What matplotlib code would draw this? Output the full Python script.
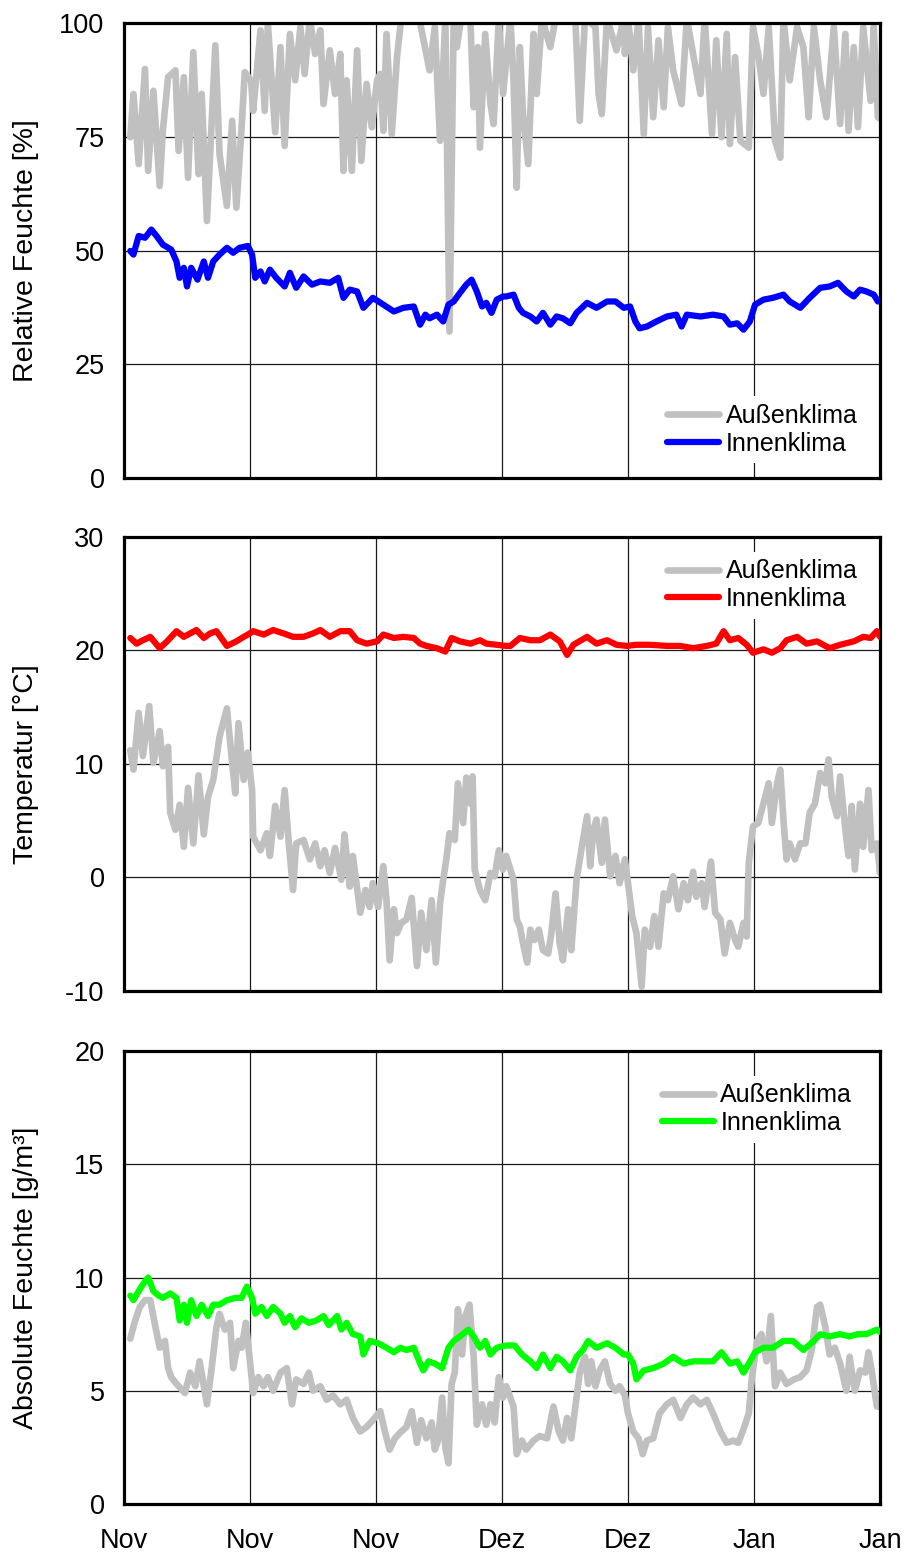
import matplotlib
matplotlib.use("Agg")
from matplotlib import pyplot as plt

plt.rcParams['font.family'] = ['Liberation Sans', 'DejaVu Sans']

# x axis: days from start of record, 6 intervals of 12 days
tick_days = [0, 12, 24, 36, 48, 60, 72]
tick_labels = ["Nov", "Nov", "Nov", "Dez", "Dez", "Jan", "Jan"]

# relative humidity, outside
rh_out_t = [0.6, 0.9, 1.4, 2.0, 2.3, 2.8, 3.4, 3.7, 4.2, 4.9, 5.2, 5.7, 6.1, 6.6, 7.1, 7.4, 7.9, 8.7,
            9.1, 9.8, 10.3, 10.7, 11.2, 11.5, 12.1, 12.3, 12.6, 13.0, 13.4, 13.7, 14.4, 14.9, 15.3,
            15.8, 16.3, 16.8, 17.2, 17.7, 18.2, 18.7, 19.0, 19.6, 20.1, 20.6, 20.9, 21.2, 21.7, 22.2,
            22.6, 23.1, 23.6, 24.1, 24.4, 24.7, 25.0, 25.5, 26.0, 26.4, 26.9, 27.6, 28.2, 29.1, 29.6,
            30.1, 30.6, 31.0, 31.4, 31.7, 32.3, 33.0, 33.3, 33.7, 33.9, 34.4, 34.9, 35.2, 35.7, 36.1,
            36.8, 37.1, 37.4, 37.7, 38.0, 38.5, 39.0, 39.3, 39.8, 40.6, 41.1, 42.0, 43.0, 43.4, 43.9,
            44.9, 45.2, 45.5, 46.0, 46.9, 47.6, 47.7, 48.0, 48.5, 49.0, 49.5, 49.9, 50.4, 50.9, 51.4,
            51.8, 52.3, 53.1, 53.6, 54.2, 54.9, 55.3, 56.0, 56.4, 56.9, 57.4, 57.7, 58.2, 58.7, 59.5,
            59.9, 60.4, 60.9, 61.4, 62.0, 62.5, 62.8, 63.4, 64.1, 64.7, 65.2, 65.7, 66.3, 66.9, 67.6,
            68.2, 68.7, 69.0, 69.5, 69.9, 70.4, 71.1, 71.4, 71.8, 72.0]
rh_out = [74.9, 84.4, 69.0, 89.9, 67.5, 85.1, 64.2, 76.3, 88.1, 89.6, 71.9, 88.1, 66.0, 93.6, 66.8, 84.4,
          56.5, 95.1, 71.2, 59.8, 78.5, 59.4, 77.1, 89.2, 87.4, 80.7, 88.1, 98.4, 80.7, 99.9, 76.0, 94.7,
          73.0, 97.6, 87.4, 99.1, 88.8, 101, 93.2, 98.4, 82.2, 94.0, 84.4, 93.2, 67.5, 87.4, 67.5, 94.0,
          69.7, 86.6, 77.1, 87.4, 88.8, 76.3, 97.6, 75.6, 92.5, 101, 105, 104, 100, 89.6, 99.1,
          74.1, 101, 32.2, 101, 94.7, 104, 100, 81.5, 94.7, 72.6, 97.6, 82.2, 77.8, 101, 84.4,
          101, 87.4, 63.8, 94.7, 80.0, 69.0, 97.6, 84.4, 101, 94.7, 101, 104, 100, 78.5, 101,
          99.1, 84.4, 80.0, 101, 94.0, 101, 93.2, 101, 89.6, 101, 75.6, 99.1, 79.3, 96.2, 81.5,
          99.1, 89.6, 82.2, 101, 93.2, 84.4, 101, 75.6, 96.2, 74.9, 97.6, 73.4, 92.5, 74.1, 72.6,
          99.1, 93.2, 84.4, 99.1, 74.1, 70.4, 101, 87.4, 99.1, 94.7, 79.3, 99.1, 87.4, 79.3, 99.1,
          77.8, 97.6, 76.3, 94.7, 77.1, 99.1, 82.9, 99.1, 79.3, 79.0]

# relative humidity, inside
rh_in_t = [0.6, 0.9, 1.4, 2.0, 2.6, 3.1, 3.7, 4.5, 5.0, 5.3, 5.7, 6.0, 6.4, 7.0, 7.6, 8.0, 8.5, 9.1, 9.8,
           10.4, 11.0, 11.8, 12.2, 12.5, 13.0, 13.4, 13.9, 14.5, 15.3, 15.8, 16.4, 17.1, 17.9, 18.7,
           19.6, 20.4, 20.9, 21.5, 22.2, 22.8, 23.7, 24.7, 25.7, 26.6, 27.6, 28.2, 28.7, 29.1, 29.8,
           30.4, 30.9, 31.4, 32.0, 32.6, 33.1, 33.6, 34.1, 34.5, 35.0, 35.5, 36.1, 36.4, 37.1, 37.6,
           38.0, 38.7, 39.3, 39.9, 40.6, 41.2, 41.8, 42.5, 43.1, 44.1, 45.0, 46.0, 46.8, 47.6, 48.2,
           48.7, 49.1, 49.8, 50.7, 51.7, 52.6, 53.1, 53.6, 54.9, 56.1, 57.1, 57.7, 58.4, 59.0, 59.6,
           60.1, 60.9, 61.8, 62.8, 63.4, 64.4, 65.3, 66.3, 67.2, 68.0, 68.8, 69.5, 70.1, 70.7, 71.4,
           71.8, 72.0]
rh_in = [49.9, 49.1, 53.2, 52.8, 54.6, 53.2, 51.3, 50.2, 47.6, 44.0, 46.2, 42.1, 46.2, 43.6, 47.6, 44.0,
         47.6, 49.1, 50.6, 49.5, 50.6, 51.0, 49.1, 44.0, 45.4, 43.2, 45.8, 44.0, 42.1, 45.1, 41.8, 44.3,
         42.5, 43.2, 42.9, 44.0, 39.6, 41.4, 41.0, 37.4, 39.6, 38.1, 36.6, 37.4, 37.7, 33.7, 35.9, 35.1,
         35.9, 34.4, 38.1, 38.8, 40.7, 42.5, 43.6, 41.0, 37.7, 38.5, 36.3, 39.2, 39.9, 39.9, 40.3, 37.4,
         36.3, 35.5, 34.4, 36.3, 33.7, 35.5, 35.1, 34.0, 36.3, 38.5, 37.4, 38.8, 38.8, 37.4, 37.7,
         34.4, 32.9, 33.3, 34.4, 35.5, 35.9, 33.3, 35.9, 35.5, 35.9, 35.5, 33.7, 34.0, 32.6, 34.4,
         38.1, 39.2, 39.6, 40.3, 38.8, 37.4, 39.6, 41.8, 42.1, 42.9, 41.0, 39.9, 41.4, 41.0, 40.3,
         38.8, 39.2]

# temperature, outside
temp_out_t = [0.6, 0.9, 1.4, 1.8, 2.4, 2.8, 3.4, 3.7, 4.2, 4.4, 4.9, 5.3, 5.7, 6.1, 6.6, 7.1, 7.6, 8.0,
              8.5, 9.1, 9.8, 10.3, 10.6, 10.9, 11.4, 11.8, 12.2, 12.3, 13.0, 13.6, 13.9, 14.4, 14.9,
              15.3, 15.7, 16.1, 16.4, 17.1, 17.7, 18.2, 18.7, 19.1, 19.6, 20.1, 20.7, 21.0, 21.5, 21.8,
              22.5, 23.0, 23.4, 23.7, 24.2, 24.7, 25.0, 25.3, 25.7, 26.0, 26.4, 26.9, 27.4, 27.9, 28.3,
              28.8, 29.3, 29.7, 30.1, 30.4, 30.7, 31.0, 31.5, 31.8, 32.3, 32.6, 33.0, 33.2, 33.4, 33.9,
              34.4, 34.9, 35.3, 35.7, 36.1, 36.4, 37.1, 37.4, 37.7, 38.0, 38.4, 38.7, 39.1, 39.5, 39.9,
              40.4, 40.7, 41.1, 41.5, 41.8, 42.3, 42.6, 43.1, 43.6, 44.1, 44.4, 44.7, 45.0, 45.5, 45.8,
              46.3, 46.8, 47.2, 47.7, 48.0, 48.4, 48.8, 49.3, 49.6, 50.1, 50.5, 50.9, 51.4, 51.8, 52.3,
              52.8, 53.3, 53.7, 54.2, 54.5, 55.0, 55.3, 55.9, 56.3, 56.8, 57.2, 57.7, 58.2, 58.5, 59.0,
              59.3, 59.5, 59.9, 60.4, 60.9, 61.4, 61.7, 62.2, 62.5, 62.8, 63.1, 63.4, 63.9, 64.4, 64.9,
              65.3, 65.8, 66.3, 66.8, 67.1, 67.4, 67.9, 68.2, 68.7, 69.0, 69.3, 69.6, 70.1, 70.4, 70.9,
              71.2, 71.7, 72.0]
temp_out = [11.2, 9.5, 14.5, 10.7, 15.1, 10.1, 12.9, 9.8, 11.5, 5.7, 4.2, 6.4, 2.7, 7.9, 3.0, 9.0, 3.8, 7.1,
            8.6, 12.4, 14.9, 10.1, 7.4, 13.6, 8.6, 11.0, 7.7, 3.6, 2.4, 3.9, 1.9, 6.3, 3.6,
            7.7, 3.0, -1.1, 3.0, 3.3, 1.6, 3.0, 1.0, 2.4, 0.4, 2.6, -0.2, 3.8, -0.8, 1.9,
            -3.1, -1.1, -2.6, -0.5, -2.6, 1.0, -2.0, -7.3, -2.8, -4.9, -4.0, -3.7, -1.8, -7.8, -3.1,
            -6.4, -2.0, -7.5, -2.3, -0.2, 1.6, 3.9, 3.3, 8.3, 4.8, 8.8, 6.5, 8.9, 0.7, -1.1,
            -2.0, 0.4, 0.1, 2.4, 0.7, 1.9, -0.2, -3.7, -4.3, -5.8, -7.5, -4.6, -5.5, -4.6, -6.4,
            -6.7, -4.9, -1.4, -5.8, -7.3, -2.8, -6.4, -0.2, 2.7, 5.4, 1.0, 4.2, 5.1, 1.3, 5.1,
            0.1, 1.9, -0.5, 1.6, -0.5, -3.4, -4.9, -9.6, -4.6, -6.1, -3.4, -6.1, -1.4, -2.0, 0.1,
            -2.8, -0.5, -2.0, 0.5, -1.7, -0.5, -2.6, 1.4, -3.1, -3.7, -6.7, -4.0, -5.5, -6.1, -4.0,
            -5.2, 1.3, 4.5, 4.8, 6.5, 8.3, 4.8, 8.3, 9.5, 5.1, 1.6, 3.0, 1.6, 3.0, 3.0,
            5.7, 6.5, 9.2, 8.3, 10.4, 7.1, 5.4, 8.9, 4.2, 1.9, 6.3, 0.7, 6.5, 2.7, 7.7,
            2.4, 3.0, 0.4]

# temperature, inside
temp_in_t = [0.6, 1.2, 1.8, 2.5, 3.4, 4.1, 5.0, 5.7, 6.3, 6.9, 7.6, 8.2, 8.8, 9.8, 10.7, 11.4, 11.8, 12.3,
             13.3, 14.2, 15.2, 16.1, 17.1, 18.0, 18.7, 19.6, 20.6, 21.5, 22.2, 23.1, 24.1, 24.7, 25.7,
             26.6, 27.6, 28.2, 28.8, 29.8, 30.6, 31.2, 32.0, 33.0, 33.9, 34.5, 35.5, 36.4, 36.8, 37.7,
             38.7, 39.6, 40.6, 41.5, 42.2, 42.8, 44.1, 45.0, 46.0, 46.9, 47.9, 48.8, 50.1, 51.7, 53.0,
             54.2, 55.5, 56.4, 57.1, 57.7, 58.5, 59.3, 59.9, 60.9, 61.7, 62.5, 63.1, 64.1, 65.0, 66.0,
             67.2, 68.2, 69.5, 70.4, 71.1, 71.7, 72.0]
temp_in = [21.1, 20.6, 20.9, 21.2, 20.2, 20.8, 21.7, 21.2, 21.5, 21.8, 21.1, 21.5, 21.7, 20.4, 20.8, 21.2,
           21.4, 21.7, 21.4, 21.8, 21.5, 21.2, 21.2, 21.5, 21.8, 21.2, 21.7, 21.7, 20.9, 20.6, 20.8, 21.4,
           21.1, 21.2, 21.1, 20.6, 20.4, 20.2, 19.9, 21.1, 20.8, 20.6, 20.9, 20.6, 20.5, 20.4, 20.4,
           21.1, 20.9, 20.9, 21.4, 20.8, 19.6, 20.5, 21.2, 20.6, 20.9, 20.5, 20.4, 20.5, 20.5, 20.4,
           20.4, 20.2, 20.4, 20.6, 21.7, 20.9, 21.1, 20.5, 19.8, 20.1, 19.8, 20.2, 20.9, 21.2, 20.6,
           20.8, 20.2, 20.5, 20.8, 21.2, 21.1, 21.7, 21.2]

# absolute humidity, outside
ah_out_t = [0.6, 1.0, 1.5, 2.0, 2.5, 3.0, 3.4, 3.9, 4.2, 4.5, 5.0, 5.8, 6.3, 6.8, 7.2, 7.6, 7.9, 8.3, 8.8,
            9.1, 9.6, 10.1, 10.4, 10.9, 11.2, 11.6, 12.0, 12.3, 12.8, 13.3, 13.7, 14.2, 14.9, 15.5,
            16.0, 16.4, 17.1, 17.6, 18.0, 18.7, 19.3, 19.9, 20.6, 21.2, 21.8, 22.5, 23.1, 23.7, 24.4,
            24.9, 25.3, 25.8, 26.4, 26.9, 27.4, 27.9, 28.3, 28.8, 29.3, 29.6, 29.9, 30.3, 30.6, 30.9,
            31.2, 31.5, 31.8, 32.2, 32.5, 32.9, 33.3, 33.6, 34.1, 34.5, 34.9, 35.3, 35.7, 36.1, 36.4,
            37.1, 37.4, 37.9, 38.3, 39.0, 39.6, 40.3, 40.9, 41.4, 41.8, 42.2, 42.6, 43.1, 43.4, 43.9,
            44.2, 44.5, 44.9, 45.3, 45.8, 46.3, 46.8, 47.2, 47.7, 48.0, 48.5, 49.0, 49.4, 49.8, 50.4,
            51.0, 51.7, 52.3, 53.0, 53.6, 54.2, 54.9, 55.5, 56.1, 56.8, 57.4, 58.0, 58.5, 59.0, 59.5,
            59.8, 60.3, 60.7, 61.2, 61.6, 62.0, 62.5, 63.1, 63.8, 64.4, 65.0, 65.5, 66.0, 66.3, 66.8,
            67.2, 67.7, 68.2, 68.8, 69.1, 69.6, 70.1, 70.6, 70.9, 71.2, 71.7, 72.0]
ah_out = [7.3, 8.0, 8.7, 9.0, 9.0, 7.8, 6.9, 7.2, 6.0, 5.6, 5.3, 4.9, 5.8, 5.2, 6.3, 5.2, 4.4, 5.8, 7.8,
          8.4, 7.7, 8.0, 6.0, 7.2, 6.9, 8.0, 6.3, 4.9, 5.6, 5.2, 5.6, 5.0, 5.8, 6.0,
          4.4, 5.5, 5.3, 5.8, 5.0, 5.2, 4.6, 4.8, 4.4, 4.6, 3.8, 3.2, 3.4, 3.7, 4.1,
          3.1, 2.4, 2.9, 3.2, 3.4, 4.1, 2.7, 3.7, 2.9, 3.6, 2.4, 2.8, 4.7, 2.5, 1.8,
          5.3, 5.8, 8.6, 6.6, 8.3, 8.8, 6.5, 3.5, 4.4, 3.5, 4.4, 3.6, 5.6, 4.7, 5.2,
          4.3, 2.2, 2.8, 2.4, 2.8, 3.0, 2.9, 4.3, 3.2, 2.8, 3.8, 2.9, 4.7, 5.8, 6.5,
          5.3, 6.3, 5.2, 5.9, 6.3, 5.3, 5.0, 5.2, 4.8, 4.0, 3.2, 2.9, 2.2, 2.8, 2.9,
          4.0, 4.4, 4.6, 3.8, 4.4, 4.7, 4.4, 4.6, 4.0, 3.2, 2.7, 2.8, 2.7, 3.3, 4.0,
          5.6, 7.2, 7.5, 6.3, 8.3, 5.2, 5.8, 5.3, 5.5, 5.6, 5.9, 6.8, 8.7, 8.8, 7.8,
          6.6, 6.9, 6.2, 5.0, 6.5, 5.0, 5.9, 5.8, 6.7, 5.9, 4.3, 4.3]

# absolute humidity, inside
ah_in_t = [0.6, 0.9, 1.4, 1.8, 2.3, 2.8, 3.3, 3.7, 4.4, 5.0, 5.3, 5.7, 6.0, 6.4, 6.9, 7.4, 8.0, 8.5, 9.1,
           9.8, 10.6, 11.2, 11.7, 12.2, 12.5, 13.1, 13.6, 14.2, 14.9, 15.3, 15.8, 16.3, 16.9, 17.6,
           18.3, 19.0, 19.5, 20.3, 20.7, 21.2, 21.8, 22.5, 22.8, 23.4, 24.2, 25.0, 25.7, 26.3, 26.9,
           27.6, 28.2, 28.5, 29.0, 29.6, 30.3, 30.9, 31.4, 32.0, 32.8, 33.3, 33.9, 34.4, 34.9, 35.5,
           36.4, 37.2, 37.9, 38.7, 39.3, 39.9, 40.6, 41.2, 41.8, 42.5, 43.1, 43.7, 44.2, 45.0, 46.0,
           46.8, 47.6, 48.0, 48.5, 48.8, 49.5, 50.4, 51.4, 52.3, 53.3, 54.2, 55.2, 56.1, 56.9, 57.7,
           58.4, 59.0, 59.5, 60.1, 60.9, 61.8, 62.8, 63.7, 64.7, 65.7, 66.3, 67.2, 68.2, 69.1, 69.9,
           70.7, 71.7, 72.0]
ah_in = [9.2, 9.0, 9.4, 9.7, 10.0, 9.4, 9.2, 9.1, 9.3, 9.1, 8.1, 8.8, 8.0, 9.0, 8.3, 8.8, 8.3, 8.8, 8.8,
         9.0, 9.1, 9.1, 9.6, 9.1, 8.4, 8.7, 8.3, 8.7, 8.4, 8.0, 8.3, 7.8, 8.2, 8.0,
         8.1, 8.3, 7.9, 8.3, 7.7, 8.0, 7.5, 7.4, 6.6, 7.2, 7.1, 6.9, 6.7, 6.9, 6.8,
         6.9, 6.2, 5.9, 6.3, 6.2, 6.0, 6.9, 7.2, 7.4, 7.7, 7.4, 6.9, 7.2, 6.6, 6.9,
         7.0, 7.0, 6.6, 6.3, 6.0, 6.6, 6.0, 6.5, 6.3, 5.9, 6.5, 6.8, 7.2, 6.9, 7.1,
         6.9, 6.6, 6.6, 6.2, 5.5, 5.9, 6.0, 6.2, 6.5, 6.2, 6.3, 6.3, 6.3, 6.7, 6.2,
         6.3, 5.8, 6.2, 6.7, 6.9, 6.9, 7.2, 7.2, 6.8, 7.2, 7.5, 7.4, 7.5, 7.4, 7.5,
         7.5, 7.7, 7.6]

grey = "#C0C0C0"
fs = 19.5

fig = plt.figure(figsize=(9.11, 15.55), dpi=100)
rects = [[0.1361, 0.6926, 0.8299, 0.2926],
         [0.1361, 0.3627, 0.8299, 0.2920],
         [0.1361, 0.0328, 0.8299, 0.2913]]

panels = [
    (rh_out_t, rh_out, rh_in_t, rh_in, "#0000FF", (0, 100), [0, 25, 50, 75, 100],
     "Relative Feuchte [%]", "lower right", (1.0, 0.0)),
    (temp_out_t, temp_out, temp_in_t, temp_in, "#FF0000", (-10, 30), [-10, 0, 10, 20, 30],
     "Temperatur [°C]", "upper right", (1.0, 1.0)),
    (ah_out_t, ah_out, ah_in_t, ah_in, "#00FF00", (0, 20), [0, 5, 10, 15, 20],
     "Absolute Feuchte [g/m³]", "upper right", (0.993, 0.978)),
]

for i, (to, vo, ti, vi, col, ylim, yticks, ylabel, loc, anchor) in enumerate(panels):
    ax = fig.add_axes(rects[i])
    ax.plot(to, vo, color=grey, lw=4.8, solid_joinstyle='round', solid_capstyle='round',
            label="Außenklima", zorder=2)
    ax.plot(ti, vi, color=col, lw=4.5, solid_joinstyle='round', solid_capstyle='round',
            label="Innenklima", zorder=3)
    ax.set_xlim(0, 72)
    ax.set_ylim(*ylim)
    ax.set_xticks(tick_days)
    ax.set_yticks(yticks)
    ax.set_yticklabels([str(v) for v in yticks])
    if i == 2:
        ax.set_xticklabels(tick_labels)
    else:
        ax.set_xticklabels([])
    ax.tick_params(length=0, labelsize=fs, pad=14)
    ax.tick_params(axis='x', pad=17)
    ax.grid(True, color="#1a1a1a", lw=0.9)
    ax.set_axisbelow(True)
    for s in ax.spines.values():
        s.set_linewidth(2.3)
    ax.set_ylabel(ylabel, fontsize=20.5)
    ax.yaxis.set_label_coords(-0.113, 0.5)
    leg = ax.legend(loc=loc, bbox_to_anchor=anchor, fontsize=18, handlelength=2.1,
                    handletextpad=0.25, labelspacing=0.15, borderpad=0.3,
                    borderaxespad=0.6, frameon=True, fancybox=False)
    leg.get_frame().set_edgecolor("none")
    leg.get_frame().set_facecolor("white")
    leg.get_frame().set_alpha(1)

plt.savefig("out.png", dpi=100)
